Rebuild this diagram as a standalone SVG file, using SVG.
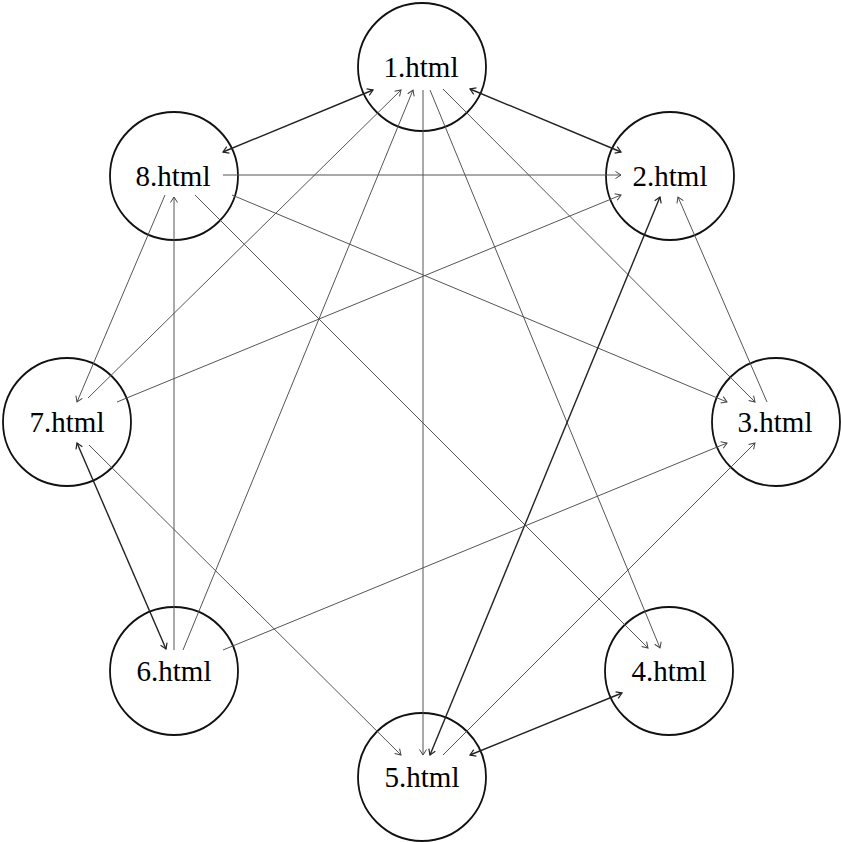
<svg xmlns="http://www.w3.org/2000/svg" width="841" height="842" viewBox="0 0 841 842">
<style>
.node circle{fill:#fff;stroke:#111;stroke-width:1.8}
.node text{font-family:"Liberation Serif","Times New Roman",serif;font-size:29px;fill:#000;text-anchor:middle}
.e{stroke:#555;stroke-width:1;fill:none;marker-end:url(#ah)}
.b{stroke:#222;stroke-width:1.4;fill:none;marker-end:url(#ahd);marker-start:url(#ahd)}
</style>
<defs>
<marker id="ah" markerUnits="userSpaceOnUse" markerWidth="10" markerHeight="10" refX="7" refY="5" orient="auto">
<path d="M1.5,1.5 L7,5 L1.5,8.5" fill="none" stroke="#444" stroke-width="1"/>
</marker>
<marker id="ahd" markerUnits="userSpaceOnUse" markerWidth="10" markerHeight="10" refX="7" refY="5" orient="auto-start-reverse">
<path d="M1.5,1.5 L7,5 L1.5,8.5" fill="none" stroke="#222" stroke-width="1.2"/>
</marker>
</defs>
<g id="nodes">
<g id="n1" class="node"><circle cx="422" cy="67" r="64"/><text x="421" y="77">1.html</text></g>
<g id="n2" class="node"><circle cx="670" cy="176" r="64"/><text x="670" y="186">2.html</text></g>
<g id="n3" class="node"><circle cx="776" cy="422" r="64"/><text x="775" y="432">3.html</text></g>
<g id="n4" class="node"><circle cx="669" cy="671" r="64"/><text x="669" y="681">4.html</text></g>
<g id="n5" class="node"><circle cx="422" cy="777" r="64"/><text x="422" y="787">5.html</text></g>
<g id="n6" class="node"><circle cx="174" cy="671" r="64"/><text x="174" y="681">6.html</text></g>
<g id="n7" class="node"><circle cx="67" cy="422" r="64"/><text x="67" y="432">7.html</text></g>
<g id="n8" class="node"><circle cx="174" cy="176" r="64"/><text x="173" y="186">8.html</text></g>
</g>
<g id="edges">
<line class="b" x1="223" y1="152" x2="373" y2="90"/>
<line class="b" x1="470" y1="89" x2="621" y2="152"/>
<line class="e" x1="223" y1="175" x2="621" y2="175"/>
<line class="e" x1="88" y1="398" x2="401" y2="90"/>
<line class="e" x1="183" y1="650" x2="413" y2="90"/>
<line class="e" x1="423" y1="90" x2="423" y2="755"/>
<line class="e" x1="430" y1="90" x2="660" y2="648"/>
<line class="e" x1="443" y1="89" x2="755" y2="402"/>
<line class="e" x1="117" y1="402" x2="621" y2="195"/>
<line class="e" x1="232" y1="195" x2="727" y2="402"/>
<line class="e" x1="165" y1="195" x2="77" y2="402"/>
<line class="e" x1="174" y1="650" x2="174" y2="197"/>
<line class="e" x1="195" y1="195" x2="648" y2="648"/>
<line class="b" x1="77" y1="443" x2="166" y2="649"/>
<line class="e" x1="89" y1="445" x2="401" y2="755"/>
<line class="b" x1="430" y1="755" x2="660" y2="197"/>
<line class="e" x1="767" y1="402" x2="678" y2="197"/>
<line class="e" x1="223" y1="650" x2="727" y2="443"/>
<line class="e" x1="443" y1="755" x2="755" y2="443"/>
<line class="b" x1="470" y1="755" x2="622" y2="693"/>
</g>
</svg>
